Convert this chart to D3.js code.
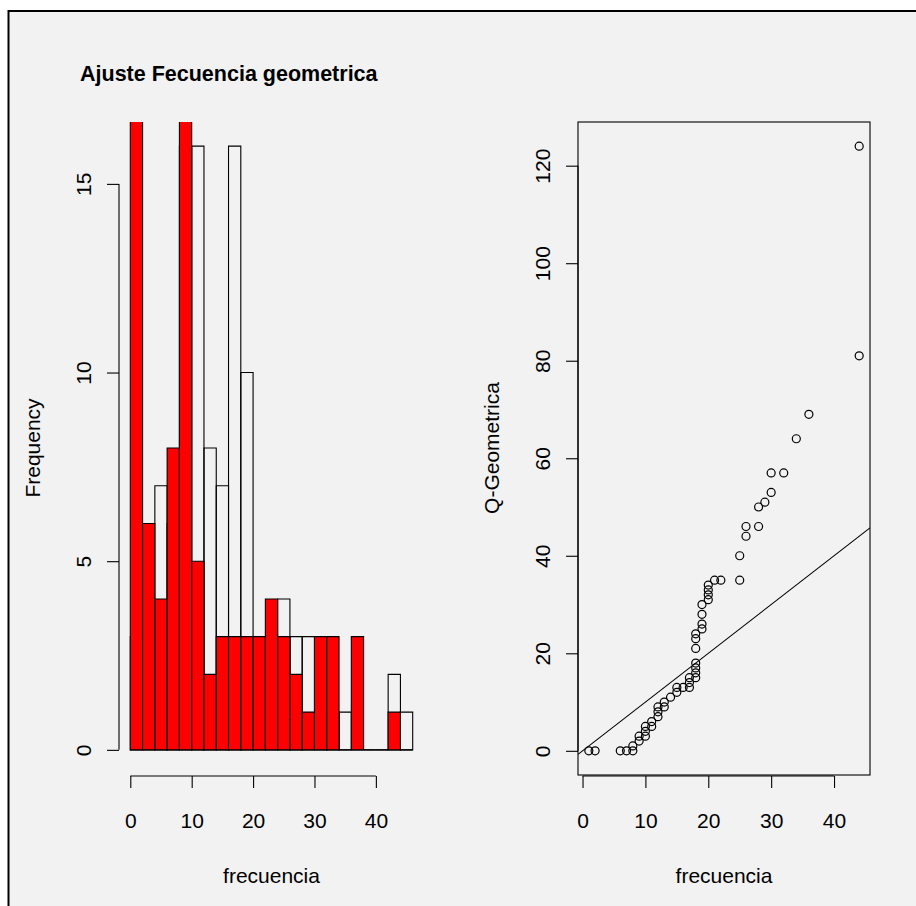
<!DOCTYPE html>
<html>
<head>
<meta charset="utf-8">
<script src="https://cdn.jsdelivr.net/npm/d3@7"></script>
<style>
  body { margin: 0; background: #fff; }
  svg { display: block; font-family: "Liberation Sans", Arial, sans-serif; }
</style>
</head>
<body>
<svg id="svg" width="916" height="906"></svg>
<script>
// DATA
const breaks = [0, 2, 4, 6, 8, 10, 12, 14, 16, 18, 20, 22, 24, 26, 28, 30, 32, 34, 36, 38, 40, 42, 44, 46];
const observedCounts = [3, 0, 7, 6, 16, 16, 8, 7, 16, 10, 3, 0, 4, 3, 3, 1, 1, 1, 0, 0, 0, 2, 1];
const geomCounts = [17, 6, 4, 8, 17, 5, 2, 3, 3, 3, 3, 4, 3, 2, 1, 3, 3, 0, 3, 0, 0, 1, 0];

const qqX = [1, 2, 6, 7, 8, 8, 9, 9, 10, 10, 10, 11, 11, 12, 12, 12, 13, 13, 14, 15, 15, 16, 17, 17, 17,
  18, 18, 18, 18, 18, 18, 18, 19, 19, 19, 19, 20, 20, 20, 20, 21, 22, 25, 25, 26, 26, 28, 28, 29, 30,
  30, 32, 34, 36, 44, 44];
const qqY = [0, 0, 0, 0, 0, 1, 2, 3, 3, 4, 5, 5, 6, 7, 8, 9, 9, 10, 11, 12, 13, 13, 13, 14, 15,
  15, 16, 17, 18, 21, 23, 24, 25, 26, 28, 30, 31, 32, 33, 34, 35, 35, 35, 40, 44, 46, 46, 50, 51, 53,
  57, 57, 64, 69, 81, 124];

const xTicks = [0, 10, 20, 30, 40];
const histYTicks = [0, 5, 10, 15];
const qqYTicks = [0, 20, 40, 60, 80, 100, 120];

const titleText = "Ajuste Fecuencia geometrica";

// LAYOUT
const svg = d3.select("#svg");
const fontSize = 21;

svg.append("rect")
  .attr("x", 8.5).attr("y", 11).attr("width", 920).attr("height", 910)
  .attr("fill", "#f2f2f2").attr("stroke", "#000").attr("stroke-width", 2);

const xL = d3.scaleLinear().domain([-1.84, 47.84]).range([119, 424]);
const yL = d3.scaleLinear().domain([-0.64, 16.64]).range([774, 122]);
const xR = d3.scaleLinear().domain([-0.72, 45.72]).range([578, 870]);
const yR = d3.scaleLinear().domain([-4.96, 128.96]).range([775, 122]);

const defs = svg.append("defs");
function clip(id, x, y) {
  defs.append("clipPath").attr("id", id).append("rect")
    .attr("x", x.range()[0]).attr("y", y.range()[1])
    .attr("width", x.range()[1] - x.range()[0])
    .attr("height", y.range()[0] - y.range()[1]);
  return `url(#${id})`;
}

// axis helpers, R style: line from first to last tick
function bottomAxis(x, yPos, ticks) {
  const g = svg.append("g")
    .attr("transform", `translate(0,${yPos})`)
    .call(d3.axisBottom(x).tickValues(ticks).tickSize(12).tickSizeOuter(0).tickPadding(0))
    .call(g => g.select(".domain").remove());
  g.selectAll(".tick line").attr("stroke", "#000").attr("stroke-width", 1.1);
  g.selectAll(".tick text")
    .attr("y", 52).attr("dy", null)
    .attr("fill", "#000").style("font-size", fontSize + "px");
  g.append("line")
    .attr("x1", x(ticks[0])).attr("x2", x(ticks[ticks.length - 1]))
    .attr("stroke", "#000").attr("stroke-width", 1.1);
  g.attr("font-family", null);
}

function leftAxis(y, xPos, ticks) {
  const g = svg.append("g")
    .attr("transform", `translate(${xPos},0)`)
    .call(d3.axisLeft(y).tickValues(ticks).tickSize(12).tickSizeOuter(0))
    .call(g => g.select(".domain").remove());
  g.selectAll(".tick line").attr("stroke", "#000").attr("stroke-width", 1.1);
  g.selectAll(".tick text").remove();
  g.selectAll(".tick").append("text")
    .attr("transform", "translate(-28.3,0) rotate(-90)")
    .attr("text-anchor", "middle")
    .attr("fill", "#000")
    .style("font-size", fontSize + "px")
    .text(d => d);
  g.append("line")
    .attr("y1", y(ticks[0])).attr("y2", y(ticks[ticks.length - 1]))
    .attr("stroke", "#000").attr("stroke-width", 1.1);
  g.attr("font-family", null);
}

function label(text, x, y, rotate) {
  svg.append("text")
    .attr("transform", `translate(${x},${y})` + (rotate ? " rotate(-90)" : ""))
    .attr("text-anchor", "middle")
    .style("font-size", fontSize + "px")
    .text(text);
}

// LEFT: histograms
const barPath = (i, v) => {
  const x0 = xL(breaks[i]), x1 = xL(breaks[i + 1]);
  return `M${x0},${yL(0)}V${yL(v)}H${x1}V${yL(0)}Z`;
};

const hist = svg.append("g").attr("clip-path", clip("clipL", xL, yL));

hist.selectAll("path.obs")
  .data(observedCounts)
  .join("path")
  .attr("class", "obs")
  .attr("d", (d, i) => barPath(i, d))
  .attr("fill", "none")
  .attr("stroke", "#000")
  .attr("stroke-width", 1.1);

hist.selectAll("path.geo")
  .data(geomCounts)
  .join("path")
  .attr("class", "geo")
  .attr("d", (d, i) => barPath(i, d))
  .attr("fill", "#ff0000")
  .attr("stroke", "#000")
  .attr("stroke-width", 1.1);

bottomAxis(xL, 776, xTicks);
leftAxis(yL, 119, histYTicks);
label("frecuencia", xL(xL.domain()[0] + (xL.domain()[1] - xL.domain()[0]) / 2), 883, false);
label("Frequency", 40, 448, true);

svg.append("text")
  .attr("x", 80).attr("y", 81)
  .style("font-size", "21.5px")
  .attr("font-weight", "bold")
  .text(titleText);

// RIGHT: QQ plot
svg.append("rect")
  .attr("x", 578).attr("y", 122)
  .attr("width", 870 - 578).attr("height", 775 - 122)
  .attr("fill", "none").attr("stroke", "#000").attr("stroke-width", 1.1);

const qq = svg.append("g").attr("clip-path", clip("clipR", xR, yR));

qq.append("line")
  .attr("x1", xR(xR.domain()[0])).attr("y1", yR(xR.domain()[0]))
  .attr("x2", xR(xR.domain()[1])).attr("y2", yR(xR.domain()[1]))
  .attr("stroke", "#000").attr("stroke-width", 1.1);

qq.selectAll("circle")
  .data(qqX.map((x, i) => [x, qqY[i]]))
  .join("circle")
  .attr("cx", d => xR(d[0]))
  .attr("cy", d => yR(d[1]))
  .attr("r", 4)
  .attr("fill", "none")
  .attr("stroke", "#000")
  .attr("stroke-width", 1.2);

bottomAxis(xR, 776, xTicks);
leftAxis(yR, 578, qqYTicks);
label("frecuencia", (578 + 870) / 2, 883, false);
label("Q-Geometrica", 499, 448, true);
</script>
</body>
</html>
